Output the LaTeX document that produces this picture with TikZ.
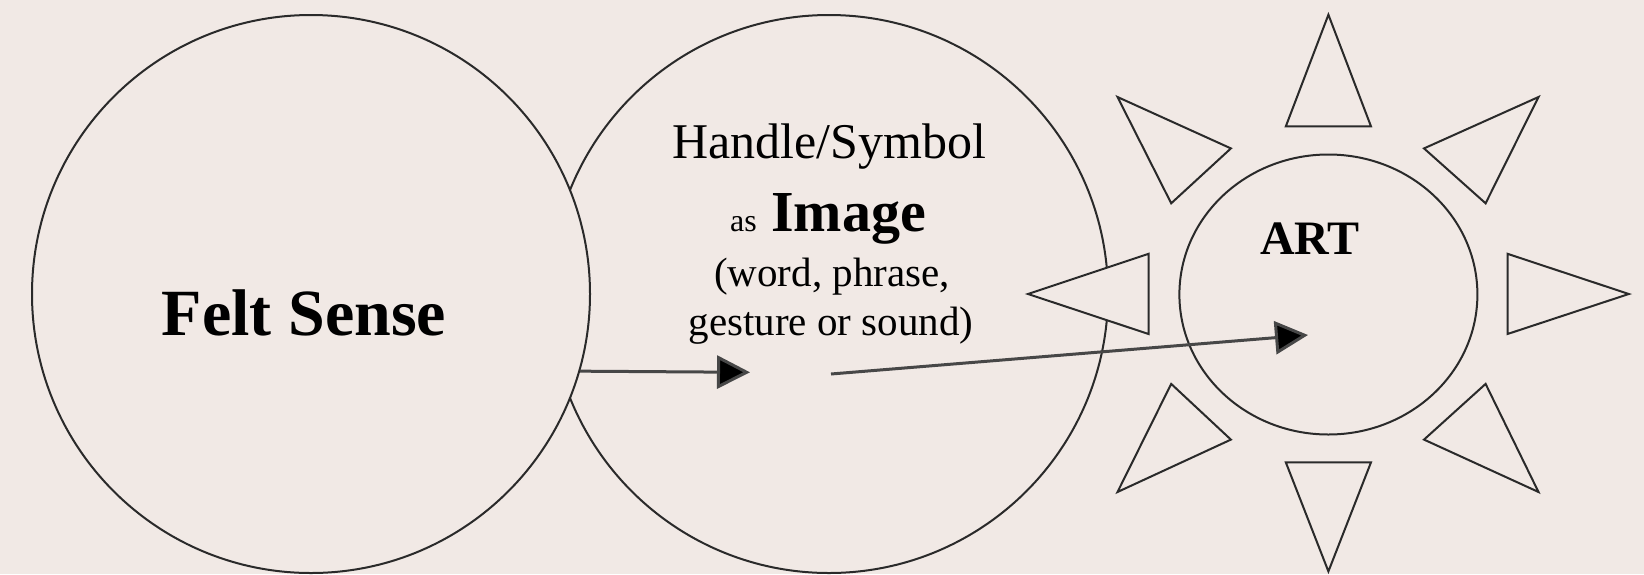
\documentclass[tikz,border=0pt]{standalone}
\usepackage{fontspec}
\setmainfont{Liberation Serif}
\usetikzlibrary{arrows.meta,shapes.geometric}
\definecolor{bgc}{HTML}{F1E9E5}
\definecolor{ln}{HTML}{2A2A2A}
\tikzset{
  ring/.style={circle, draw=ln, line width=1pt, fill=bgc, minimum size=279pt, inner sep=0pt},
  ray/.style={draw=ln, line width=1pt, fill=bgc, line join=miter},
  flow/.style={draw=black!72, line width=1.5pt, -{Triangle[length=16.5pt,width=16.5pt,fill=black]}},
  lbl/.style={inner sep=0pt, anchor=base, text=black}
}
\begin{document}
\begin{tikzpicture}[x=0.5pt,y=-0.5pt]
\fill[bgc] (0,0) rectangle (1644,574);
\useasboundingbox (0,0) rectangle (1644,574);
% circles
\node[ring] (image) at (829,294) {};
\node[ring] (felt) at (311,294) {};
\node[lbl, font=\fontsize{33}{40}\selectfont\bfseries] (feltlbl) at (304,335) {Felt Sense};
% sun rays
\path[ray] (1328.4,14.7) -- (1285.8,126.4) -- (1371,126.4) -- cycle;
\path[ray] (1538.5,97) -- (1424,148.4) -- (1485.6,203.3) -- cycle;
\path[ray] (1628.8,294) -- (1507.5,253.8) -- (1507.5,334) -- cycle;
\path[ray] (1538.5,492) -- (1424,439.6) -- (1485.6,383.9) -- cycle;
\path[ray] (1328.4,571.4) -- (1285.8,462.3) -- (1371,462.3) -- cycle;
\path[ray] (1117.5,492) -- (1171.2,383.9) -- (1230.9,439.6) -- cycle;
\path[ray] (1028,294) -- (1148.5,253.8) -- (1148.5,334) -- cycle;
\path[ray] (1117.5,97) -- (1230.9,148.4) -- (1171.2,203.3) -- cycle;
\node[ellipse, draw=ln, line width=1pt, fill=bgc, minimum width=149pt, minimum height=140pt, inner sep=0pt] (art) at (1328.4,294.5) {};
% texts
\node[lbl, font=\fontsize{25}{29}\selectfont] (handle) at (829,158) {Handle/Symbol};
\node[lbl, font=\fontsize{29}{34}\selectfont] (asimg) at (828,231.5) {{\fontsize{16}{20}\selectfont as} \textbf{Image}};
\node[lbl, font=\fontsize{20.5}{24}\selectfont] (wp) at (832,286) {(word, phrase,};
\node[lbl, font=\fontsize{20.5}{24}\selectfont] (gs) at (831,335) {gesture or sound)};
\node[lbl, font=\fontsize{24}{28}\selectfont\bfseries] (artlbl) at (1310,254.6) {ART};
% connectors
\coordinate (a1end) at (750,372.3);
\coordinate (a2start) at (831,374);
\coordinate (a2end) at (1308,335);
\draw[flow] (felt.-16.2) -- (a1end);
\draw[flow] (a2start) -- (a2end);
\end{tikzpicture}
\end{document}
